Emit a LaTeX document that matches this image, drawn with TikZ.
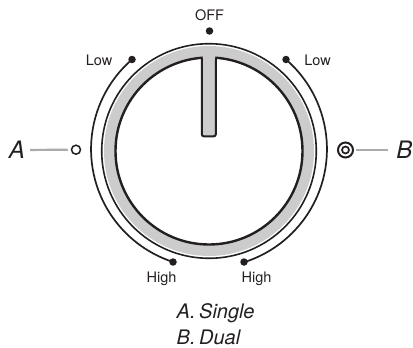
\documentclass[tikz,border=0pt]{standalone}
\usepackage{fontspec}
\setmainfont{TeX Gyre Heros}
\definecolor{ink}{HTML}{231F20}
\definecolor{knob}{HTML}{CCCCCC}
\definecolor{leader}{HTML}{ABABAB}
\tikzset{
  x=1pt,y=-1pt,
  dotmark/.style={circle,fill=ink,inner sep=0pt,minimum size=7.5pt},
  scalelabel/.style={font=\fontsize{14.5}{16}\selectfont,text=ink,inner sep=0pt},
  letter/.style={font=\fontsize{24}{26}\selectfont\itshape,text=ink,inner sep=0pt},
  captionline/.style={font=\fontsize{20}{22}\selectfont\itshape,text=ink,inner sep=0pt,anchor=base west},
  leaderline/.style={leader,line width=2.2pt},
  arcline/.style={ink,line width=1.7pt},
}
\begin{document}
\begin{tikzpicture}
\useasboundingbox (0,0) rectangle (413,348);
\coordinate (c) at (209,151);
% knob
\fill[knob] (c) circle[radius=105];
\fill[white] (c) circle[radius=94];
\draw[ink,line width=1.6pt] (c) circle[radius=107.3];
\draw[ink,line width=2.4pt] (c) circle[radius=93.5];
% pointer
\draw[ink,line width=2pt,fill=knob,rounded corners=2pt] (201.8,57.5) -- (201.8,136.3) -- (215.8,136.3) -- (215.8,57.5);
\fill[knob] (202.8,54) rectangle (214.8,60);
% scale
\node[dotmark] (off) at (209.5,31) {};
\node[dotmark] (lowl) at (132,59.5) {};
\node[dotmark] (lowr) at (286,59.5) {};
\node[dotmark] (highl) at (173,262) {};
\node[dotmark] (highr) at (244,262) {};
\draw[arcline] (lowl.center) arc[start angle=130.9,end angle=252,radius=118.6pt];
\draw[arcline] (lowr.center) arc[start angle=49.1,end angle=-72,radius=118.6pt];
\node[scalelabel] at (209.5,15) {OFF};
\node[scalelabel] at (99,60.5) {Low};
\node[scalelabel] at (317.5,60.5) {Low};
\node[scalelabel] at (161.5,279) {High};
\node[scalelabel] at (256.5,279) {High};
% burners
\node[draw=ink,circle,line width=1.5pt,inner sep=0pt,minimum size=9pt] (a) at (76,149.7) {};
\node[draw=ink,circle,line width=2pt,inner sep=0pt,minimum size=15pt] (b) at (345.5,150) {};
\node[draw=ink,circle,line width=1.7pt,inner sep=0pt,minimum size=7pt] (bi) at (b) {};
\node[letter] (A) at (17,150) {A};
\node[letter] (B) at (404.5,150) {B};
\draw[leaderline,shorten <=5pt,shorten >=3pt] (A) -- (a);
\draw[leaderline,shorten <=1.5pt,shorten >=8pt] (b) -- (B);
% captions
\node[captionline] at (176.5,318) {A.\hspace{-2pt} Single};
\node[captionline] at (176.5,344) {B.\hspace{-2pt} Dual};
\end{tikzpicture}
\end{document}
